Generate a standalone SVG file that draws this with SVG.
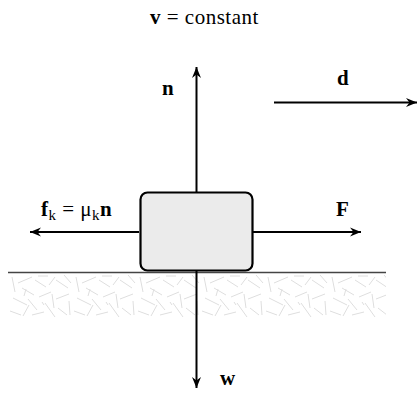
<svg xmlns="http://www.w3.org/2000/svg" width="417" height="396" viewBox="0 0 417 396">
<style>
.t{font-family:"Liberation Serif","DejaVu Serif",serif;font-size:21px;letter-spacing:0.5px;fill:#000}
.b{font-weight:bold}
.ax{stroke:#000;stroke-width:2;fill:none}
.tex{stroke:#dedede;stroke-width:1;fill:none}
</style>
<defs>
<marker id="ah" viewBox="-11 -5 12 10" markerWidth="12" markerHeight="10" refX="0" refY="0" orient="auto" markerUnits="userSpaceOnUse">
<path d="M0,0 L-11,-4.5 L-7.5,0 L-11,4.5 Z" fill="#000"/>
</marker>
<pattern id="grain" width="64" height="46" patternUnits="userSpaceOnUse" x="8" y="274">
<path class="tex" d="M4,3 L7,18 M10,9 L24,3 M14,14 L26,21 M27,6 L38,13 M30,2 L40,2 M41,11 L47,3 M48,6 L60,14 M56,1 L63,9 M5,24 L19,31 M20,25 L29,36 M31,23 L43,18 M44,20 L46,34 M48,25 L61,20 M2,37 L13,41 M15,42 L21,31 M24,41 L36,38 M37,29 L47,43 M50,34 L59,41 M61,27 L62,41 M18,15 L16,22 M34,28 L36,31"/>
</pattern>
</defs>

<text class="t" x="150" y="24"><tspan class="b">v</tspan> = constant</text>

<g id="ground">
<rect x="8" y="274" width="378" height="44" fill="url(#grain)"/>
<line x1="8" y1="272.5" x2="386" y2="272.5" stroke="#444" stroke-width="1.6"/>
</g>

<g id="connectors">
<line class="ax" x1="196.5" y1="192" x2="196.5" y2="67" marker-end="url(#ah)"/>
<line class="ax" x1="196.5" y1="271" x2="196.5" y2="388" marker-end="url(#ah)"/>
<line class="ax" x1="139" y1="232" x2="30" y2="232" marker-end="url(#ah)"/>
<line class="ax" x1="253" y1="232" x2="361" y2="232" marker-end="url(#ah)"/>
<line class="ax" x1="274" y1="102.5" x2="417" y2="102.5" marker-end="url(#ah)"/>
</g>

<g id="block">
<rect x="140.5" y="192.5" width="112" height="78" rx="7" ry="7" fill="#ebebeb" stroke="#000" stroke-width="2.2"/>
</g>

<g id="label-n"><text class="t b" x="162" y="95">n</text></g>
<g id="label-d"><text class="t b" x="337" y="85">d</text></g>
<g id="label-F"><text class="t b" x="336" y="216">F</text></g>
<g id="label-fk"><text class="t" x="41" y="216"><tspan class="b">f</tspan><tspan font-size="15" dy="4">k</tspan><tspan dy="-4"> = μ</tspan><tspan font-size="15" dy="4">k</tspan><tspan class="b" dy="-4">n</tspan></text></g>
<g id="label-w"><text class="t b" x="220" y="385">w</text></g>
</svg>
